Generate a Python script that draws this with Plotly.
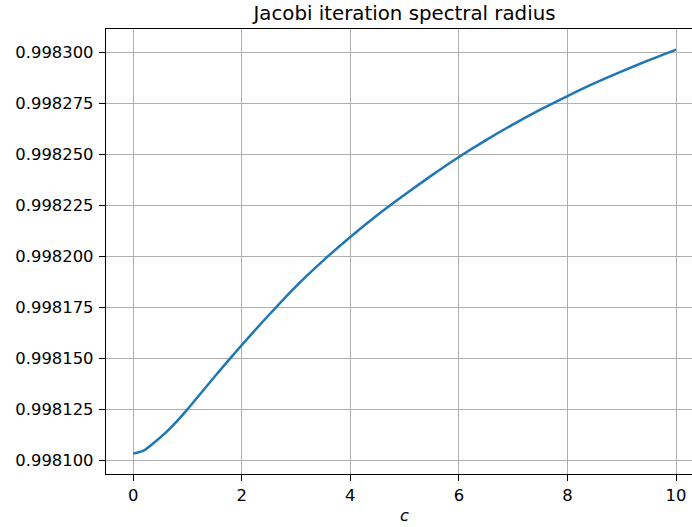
import plotly.graph_objects as go

# Data
c_values = [0, 0.2, 0.4, 0.6, 0.8, 1.0, 1.5, 2.0, 2.5, 3.0, 3.5, 4.0, 4.5, 5.0,
            5.5, 6.0, 6.5, 7.0, 7.5, 8.0, 8.5, 9.0, 9.5, 10.0]
rho_values = [0.9981033, 0.9981049, 0.9981090, 0.9981136, 0.9981190, 0.9981250,
              0.9981410, 0.9981565, 0.9981713, 0.9981854, 0.9981980, 0.9982096,
              0.9982204, 0.9982303, 0.9982398, 0.9982488, 0.9982571, 0.9982648,
              0.9982720, 0.9982787, 0.9982850, 0.9982908, 0.9982963, 0.9983015]
y_ticks = [0.998100, 0.998125, 0.998150, 0.998175, 0.998200,
           0.998225, 0.998250, 0.998275, 0.998300]
x_ticks = [0, 2, 4, 6, 8, 10]

font_family = "DejaVu Sans"
tick_size = 16.4
title_size = 19.8

fig = go.Figure()
fig.add_trace(go.Scatter(
    x=c_values, y=rho_values, mode="lines",
    line=dict(color="#1f77b4", width=2.5, shape="spline", smoothing=0.7),
    showlegend=False,
))

fig.update_layout(
    width=692, height=527,
    margin=dict(l=106, r=0, t=29, b=53),
    paper_bgcolor="white", plot_bgcolor="white",
    font=dict(family=font_family, color="black", size=tick_size),
    title=dict(text="Jacobi iteration spectral radius",
               x=404.5 / 692, xref="container", xanchor="center",
               y=1 - 13 / 527, yref="container", yanchor="middle",
               font=dict(size=title_size, family=font_family, color="black")),
)

# x-axis label, centred on the full (partly cropped) axes box
fig.add_annotation(
    text="<i>c</i>", showarrow=False,
    xref="paper", yref="paper",
    x=(404.5 - 106) / 586, y=-(515 - 474) / 445,
    xanchor="center", yanchor="middle",
    font=dict(size=tick_size, family=font_family, color="black"),
)

fig.update_xaxes(
    range=[-0.5, 10.294],
    tickvals=x_ticks, ticktext=[str(v) for v in x_ticks],
    showgrid=True, gridcolor="#b0b0b0", gridwidth=1.3,
    zeroline=False,
    showline=True, linecolor="black", linewidth=1.3, mirror=True,
    ticks="outside", ticklen=6, tickwidth=1.3, tickcolor="black",
    tickfont=dict(size=tick_size, family=font_family),
)

fig.update_yaxes(
    range=[0.9980933, 0.9983116],
    tickvals=y_ticks, ticktext=[f"{v:.6f}" for v in y_ticks],
    showgrid=True, gridcolor="#b0b0b0", gridwidth=1.3,
    zeroline=False,
    showline=True, linecolor="black", linewidth=1.3, mirror=False,
    ticks="outside", ticklen=6, tickwidth=1.3, tickcolor="black",
    tickfont=dict(size=tick_size, family=font_family),
    ticklabelstandoff=2,
)

fig.write_html(
    "out.html",
    config={"displayModeBar": False},
    post_script="document.body.style.margin='0';document.body.style.overflow='hidden';",
)
